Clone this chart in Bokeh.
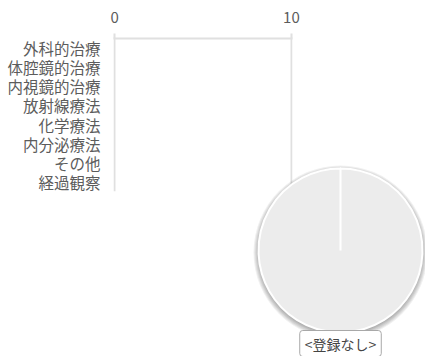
import math
from bokeh.plotting import figure
from bokeh.models import Range1d, FixedTicker, ColumnDataSource
from bokeh.core.properties import value
from bokeh.embed import file_html
from bokeh.resources import INLINE

# ---- data ----
categories = ["外科的治療", "体腔鏡的治療", "内視鏡的治療", "放射線療法",
              "化学療法", "内分泌療法", "その他", "経過観察"]
counts = [0, 0, 0, 0, 0, 0, 0, 0]
x_ticks = [0, 10]
pie_labels = ["<登録なし>"]
pie_values = [1]

# ---- layout (canvas px) ----
W, H = 425, 356
X0, X10 = 114.5, 291.0      # pixel positions of 0 and 10
PAD = 0.06                  # range padding so end grid lines are drawn
scale = (X10 - X0) / 10.0
FL = round(X0 - PAD * scale)
FR = round(X10 + PAD * scale)
FT, FB = 38, 191
CX, CY, R = 340, 250, 82
FONT = "Noto Sans CJK JP"
GRID = "#e0e0e0"
TXT = "#5c5c5c"

n = len(categories)
ypos = [i + 0.5 for i in range(n)]

p = figure(width=W, height=H, output_backend="svg", toolbar_location=None,
           x_range=Range1d(-PAD, 10 + PAD),
           y_range=Range1d(n, 0),
           x_axis_location="above",
           min_border_left=FL, min_border_right=W - FR,
           min_border_top=FT, min_border_bottom=H - FB)
p.outline_line_color = None
p.background_fill_color = "white"
p.border_fill_color = "white"

# x axis (above)
xa = p.xaxis[0]
xa.ticker = FixedTicker(ticks=x_ticks)
xa.axis_line_color = GRID
xa.axis_line_width = 2
xa.major_tick_line_color = GRID
xa.major_tick_line_width = 2
xa.major_tick_out = 5
xa.major_tick_in = 0
xa.minor_tick_line_color = None
xa.major_label_standoff = 11
xa.major_label_text_font = FONT
xa.major_label_text_font_size = "15px"
xa.major_label_text_color = TXT

# y axis (left)
ya = p.yaxis[0]
ya.ticker = FixedTicker(ticks=ypos)
ya.major_label_overrides = {y: c for y, c in zip(ypos, categories)}
ya.axis_line_color = None
ya.major_tick_line_color = None
ya.minor_tick_line_color = None
ya.major_label_standoff = 7
ya.major_label_text_font = FONT
ya.major_label_text_font_size = "15.5px"
ya.major_label_text_color = TXT

p.xgrid.grid_line_color = GRID
p.xgrid.grid_line_width = 2
p.ygrid.grid_line_color = None

# bars (all zero)
p.hbar(y=ypos, right=counts, left=0, height=0.6, fill_color="#7cb5ec", line_color=None)

# pixel ranges for the pie
p.extra_x_ranges = {"px": Range1d(FL, FR)}
p.extra_y_ranges = {"px": Range1d(FB, FT)}

total = sum(pie_values)
starts, ends, mids = [], [], []
acc = 0.0
for v in pie_values:
    a0 = math.pi / 2 - 2 * math.pi * acc / total
    acc += v
    a1 = math.pi / 2 - 2 * math.pi * acc / total
    if a0 - a1 >= 2 * math.pi - 1e-9:
        a1 += 1e-4
    starts.append(a0)
    ends.append(a1)
    mids.append((a0 + a1) / 2)

src = ColumnDataSource(dict(x=[CX] * len(pie_values), y=[CY] * len(pie_values),
                            start=starts, end=ends))

# soft shadow
for k in range(6):
    p.circle(x=CX, y=CY + 2, radius=R + k, radius_units="screen",
             fill_color="black", fill_alpha=0.06, line_color=None,
             x_range_name="px", y_range_name="px", level="overlay")

p.wedge(x="x", y="y", radius=R, radius_units="screen",
        start_angle="start", end_angle="end", direction="clock",
        fill_color="#ececec", line_color="white", line_width=2,
        source=src, x_range_name="px", y_range_name="px", level="overlay")

# data labels
d = R + 11
lab_src = ColumnDataSource(dict(
    x=[CX + d * math.cos(m) for m in mids],
    y=[CY - d * math.sin(m) for m in mids],
    text=pie_labels))
p.text(x="x", y="y", text="text", source=lab_src,
       text_align="center", text_baseline="middle",
       text_font=value(FONT), text_font_size="14px", text_color="#444444",
       background_fill_color="white", border_line_color="#a8a8a8",
       border_line_width=1, border_radius=3, padding=(5, 3),
       x_range_name="px", y_range_name="px", level="overlay")

open("out.html", "w").write(file_html(p, INLINE))
